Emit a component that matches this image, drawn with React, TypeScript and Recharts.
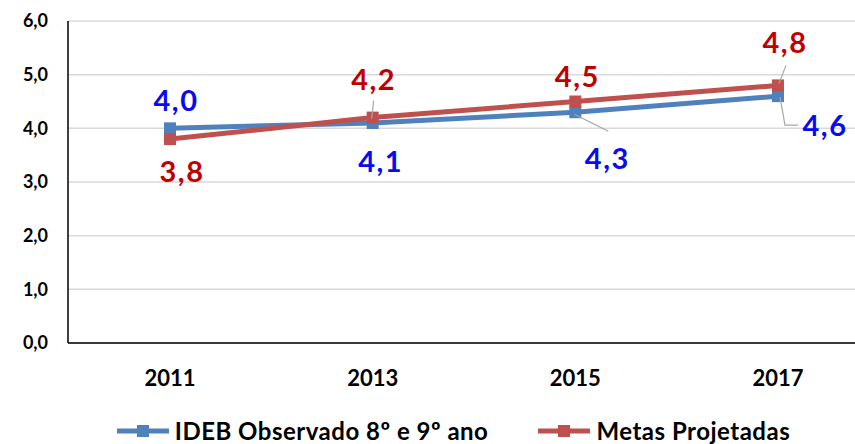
import { LineChart, Line, XAxis, YAxis, CartesianGrid, Legend, LabelList } from 'recharts';

const years = ['2011', '2013', '2015', '2017'];
const observado = [4.0, 4.1, 4.3, 4.6];
const metas = [3.8, 4.2, 4.5, 4.8];
const yTicks = [0, 1, 2, 3, 4, 5, 6];

const BLUE = '#4F81BD';
const RED = '#C0504D';
const BLUE_TXT = '#0A0AF0';
const RED_TXT = '#C00000';
const FONT = 'Lato, "Open Sans", sans-serif';

// label placement relative to each point: [dx, dy] of text centre, optional leader line
const obsLabelPos: { d: [number, number]; leader?: [number, number][] }[] = [
  { d: [6, -28] },
  { d: [8, 39] },
  { d: [32, 46], leader: [[-1, 2], [33, 19]] },
  { d: [47, 29], leader: [[2, 1], [7, 29], [20, 29]] },
];
const metaLabelPos: { d: [number, number]; leader?: [number, number][] }[] = [
  { d: [12, 32] },
  { d: [1, -38], leader: [[1, -17], [-1, 1]] },
  { d: [2, -25] },
  { d: [7, -43], leader: [[8, -20], [1, -2]] },
];

const data = years.map((y, i) => ({ year: y, obs: observado[i], meta: metas[i] }));

const fmt = (v: number) => v.toFixed(1).replace('.', ',');

function makeLabel(pos: typeof obsLabelPos, color: string) {
  return (props: any) => {
    const { x, y, index, value } = props;
    const p = pos[index];
    const cx = x + p.d[0];
    const cy = y + p.d[1];
    return (
      <g>
        {p.leader && (
          <polyline
            points={p.leader.map(([a, b]) => `${x + a},${y + b}`).join(' ')}
            fill="none"
            stroke="#A6A6A6"
            strokeWidth={1.2}
          />
        )}
        <text
          x={cx}
          y={cy + 10.5}
          textAnchor="middle"
          fill={color}
          fontSize={29}
          fontWeight={700}
          letterSpacing={1.5}
          fontFamily={FONT}
        >
          {fmt(value)}
        </text>
      </g>
    );
  };
}

const SquareDot = (color: string) => (props: any) => {
  const { cx, cy, index } = props;
  return <rect key={index} x={cx - 6} y={cy - 6} width={12} height={12} fill={color} />;
};

function LegendContent() {
  const items = [
    { label: 'IDEB Observado 8º e 9º ano', color: BLUE },
    { label: 'Metas Projetadas', color: RED },
  ];
  return (
    <div style={{ display: 'flex', justifyContent: 'center', gap: 50, paddingTop: 28, paddingLeft: 52 }}>
      {items.map((it) => (
        <div key={it.label} style={{ display: 'flex', alignItems: 'center', gap: 6 }}>
          <svg width={52} height={14}>
            <line x1={0} y1={7} x2={52} y2={7} stroke={it.color} strokeWidth={5} />
            <rect x={20} y={1} width={12} height={12} fill={it.color} />
          </svg>
          <span style={{ fontFamily: FONT, fontWeight: 700, fontSize: 24, letterSpacing: 0.5, color: '#000' }}>
            {it.label}
          </span>
        </div>
      ))}
    </div>
  );
}

export default function App() {
  return (
    <div style={{ position: 'absolute', left: 0, top: 0, width: 855, height: 444, background: '#fff' }}>
      <LineChart width={855} height={444} data={data} margin={{ top: 21, right: 0, bottom: 0, left: 0 }}>
        <CartesianGrid vertical={false} stroke="#D9D9D9" strokeWidth={1.5} />
        <XAxis
          dataKey="year"
          scale="point"
          padding={{ left: 102, right: 77 }}
          axisLine={{ stroke: '#000', strokeWidth: 1.5 }}
          tickLine={false}
          tickSize={0}
          tickMargin={27}
          height={45}
          tick={{ fill: '#000', fontSize: 22, fontWeight: 700, fontFamily: FONT }}
        />
        <YAxis
          domain={[0, 6]}
          ticks={yTicks}
          width={68}
          axisLine={{ stroke: '#000', strokeWidth: 1.5 }}
          tickLine={false}
          tickSize={0}
          tickMargin={20}
          tickFormatter={fmt}
          tick={{ fill: '#000', fontSize: 18, fontWeight: 700, fontFamily: FONT }}
        />
        <Legend verticalAlign="bottom" height={56} content={<LegendContent />} />
        <Line
          type="linear"
          dataKey="obs"
          stroke={BLUE}
          strokeWidth={5}
          dot={SquareDot(BLUE)}
          activeDot={false}
          isAnimationActive={false}
        >
          <LabelList dataKey="obs" content={makeLabel(obsLabelPos, BLUE_TXT)} />
        </Line>
        <Line
          type="linear"
          dataKey="meta"
          stroke={RED}
          strokeWidth={5}
          dot={SquareDot(RED)}
          activeDot={false}
          isAnimationActive={false}
        >
          <LabelList dataKey="meta" content={makeLabel(metaLabelPos, RED_TXT)} />
        </Line>
      </LineChart>
    </div>
  );
}
